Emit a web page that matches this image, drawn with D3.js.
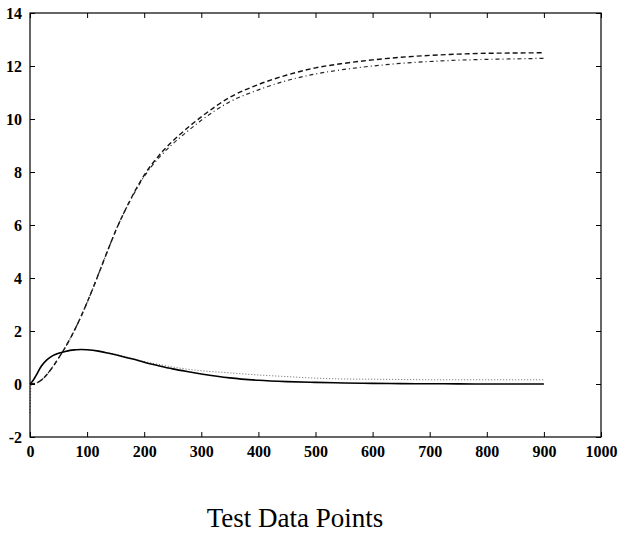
<!DOCTYPE html>
<html>
<head>
<meta charset="utf-8">
<script src="https://cdn.jsdelivr.net/npm/d3@7"></script>
<style>
  body { margin: 0; background: #fff; }
  svg { font-family: "Liberation Serif", "Times New Roman", serif; }
</style>
</head>
<body>
<div id="chart-container"></div>
<script>
// Tick values
const xTicks = [0, 100, 200, 300, 400, 500, 600, 700, 800, 900, 1000];
const yTicks = [-2, 0, 2, 4, 6, 8, 10, 12, 14];

// Upper pair of curves (dashed / dash-dot)
const xsUpper = [0, 10, 20, 30, 40, 50, 60, 70, 80, 90, 100, 110, 120, 130, 140, 150, 160, 175, 200, 225, 250, 275, 300, 350, 400, 450, 500, 550, 600, 650, 700, 750, 800, 850, 900];
const dashedVals = [0, 0.03, 0.15, 0.37, 0.65, 0.98, 1.32, 1.7, 2.12, 2.58, 3.08, 3.6, 4.15, 4.7, 5.25, 5.78, 6.26, 6.92, 7.88, 8.6, 9.17, 9.65, 10.08, 10.82, 11.3, 11.66, 11.93, 12.1, 12.23, 12.33, 12.4, 12.45, 12.48, 12.49, 12.5];
const dashDotVals = [0, 0.03, 0.15, 0.37, 0.65, 0.98, 1.32, 1.7, 2.12, 2.58, 3.08, 3.6, 4.15, 4.7, 5.25, 5.78, 6.26, 6.9, 7.83, 8.52, 9.06, 9.52, 9.95, 10.65, 11.1, 11.45, 11.7, 11.87, 12.0, 12.1, 12.17, 12.22, 12.25, 12.27, 12.29];

// Lower pair of curves (solid / dotted)
const xsLower = [0, 5, 10, 20, 30, 40, 50, 60, 70, 80, 90, 100, 120, 140, 160, 180, 200, 225, 250, 275, 300, 350, 400, 450, 500, 550, 600, 650, 700, 750, 800, 850, 900];
const solidVals = [0, 0.12, 0.3, 0.68, 0.92, 1.07, 1.16, 1.22, 1.27, 1.29, 1.3, 1.29, 1.24, 1.15, 1.05, 0.94, 0.82, 0.69, 0.57, 0.47, 0.38, 0.23, 0.14, 0.09, 0.06, 0.04, 0.025, 0.015, 0.01, 0.005, 0, 0, 0];
const xsDotted = [0, 2, 5, 10, 20, 30, 40, 50, 60, 70, 80, 90, 100, 120, 140, 160, 180, 200, 225, 250, 275, 300, 350, 400, 450, 500, 550, 600, 650, 700, 750, 800, 850, 900];
const dottedVals = [-1.1, 0, 0.12, 0.3, 0.68, 0.92, 1.07, 1.16, 1.22, 1.27, 1.29, 1.3, 1.29, 1.24, 1.16, 1.07, 0.96, 0.85, 0.74, 0.64, 0.56, 0.5, 0.42, 0.34, 0.28, 0.22, 0.19, 0.18, 0.17, 0.16, 0.16, 0.16, 0.16, 0.16];

const titleText = "Test Data Points";

// Dimensions
const W = 619, H = 540;
const margin = {top: 13, right: 18, bottom: 103, left: 30};
const width = W - margin.left - margin.right;
const height = H - margin.top - margin.bottom;

const x = d3.scaleLinear().domain([0, 1000]).range([0, width]);
const y = d3.scaleLinear().domain([-2, 14]).range([height, 0]);

const svg = d3.select("#chart-container")
  .append("svg")
    .attr("width", W)
    .attr("height", H)
  .append("g")
    .attr("transform", `translate(${margin.left}, ${margin.top})`);

// Lines
const line = d3.line()
  .x(d => x(d[0]))
  .y(d => y(d[1]))
  .curve(d3.curveMonotoneX);

const zip = (xs, ys) => xs.map((v, i) => [v, ys[i]]);

const series = [
  {pts: zip(xsUpper, dashedVals), dash: "5,3", w: 1.4, col: "#111"},
  {pts: zip(xsUpper, dashDotVals), dash: "4,3,1,3", w: 1.2, col: "#222"},
  {pts: zip(xsDotted, dottedVals), dash: "1,2", w: 1, col: "#666"},
  {pts: zip(xsLower, solidVals), dash: null, w: 1.6, col: "#000"}
];

svg.selectAll("path.series")
  .data(series)
  .join("path")
  .attr("class", "series")
  .attr("fill", "none")
  .attr("stroke", d => d.col)
  .attr("stroke-width", d => d.w)
  .attr("stroke-dasharray", d => d.dash)
  .attr("d", d => line(d.pts));

// Frame
svg.append("rect")
  .attr("x", 0).attr("y", 0)
  .attr("width", width).attr("height", height)
  .attr("fill", "none")
  .attr("stroke", "#000")
  .attr("stroke-width", 1.2);

// Axes with inward ticks
const tickLen = 5;
const fmt = d => String(d).replace("\u2212", "-"); // plain hyphen, no thousands comma

svg.append("g")
  .attr("transform", `translate(0, ${height})`)
  .style("font-size", "16px")
  .style("font-weight", "bold")
  .call(d3.axisBottom(x).tickValues(xTicks).tickSize(-tickLen).tickPadding(9).tickFormat(fmt))
  .call(g => g.select(".domain").remove());

svg.append("g")
  .call(d3.axisTop(x).tickValues(xTicks).tickSize(-tickLen).tickFormat(""))
  .call(g => g.select(".domain").remove());

svg.append("g")
  .style("font-size", "16px")
  .style("font-weight", "bold")
  .call(d3.axisLeft(y).tickValues(yTicks).tickSize(-tickLen).tickPadding(8).tickFormat(fmt))
  .call(g => g.select(".domain").remove());

svg.append("g")
  .attr("transform", `translate(${width}, 0)`)
  .call(d3.axisRight(y).tickValues(yTicks).tickSize(-tickLen).tickFormat(""))
  .call(g => g.select(".domain").remove());

svg.selectAll(".tick text").attr("fill", "#000").style("font-family", "Liberation Serif, serif");
svg.selectAll(".tick line").attr("stroke", "#000");

// Title below the chart
svg.append("text")
  .attr("x", 265)
  .attr("y", 514)
  .attr("text-anchor", "middle")
  .style("font-size", "27px")
  .style("font-family", "Liberation Serif, serif")
  .text(titleText);
</script>
</body>
</html>
